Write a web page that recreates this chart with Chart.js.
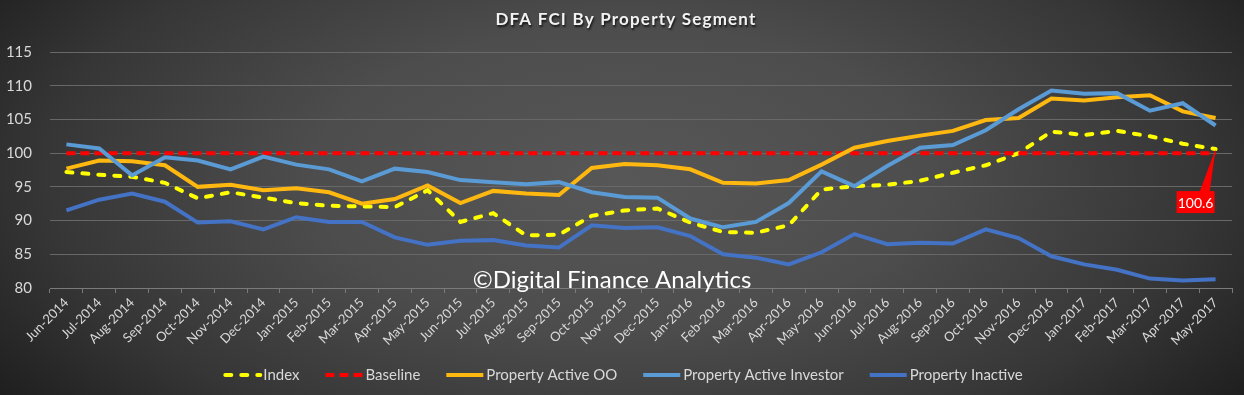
<!DOCTYPE html>
<html>
<head>
<meta charset="utf-8">
<title>DFA FCI By Property Segment</title>
<script src="https://cdn.jsdelivr.net/npm/chart.js@4"></script>
<style>
  html, body { margin: 0; padding: 0; background: #2a2a2a; }
  #wrap {
    width: 1244px; height: 395px; position: relative;
    background: radial-gradient(ellipse 62% 95% at 50% 45%, #575757 0%, #4d4d4d 40%, #363636 75%, #1e1e1e 100%);
  }
  canvas { display: block; }
</style>
</head>
<body>
<div id="wrap"><canvas id="c" width="1244" height="395"></canvas></div>
<script>
/* ---- data ---- */
const months = ['Jun-2014','Jul-2014','Aug-2014','Sep-2014','Oct-2014','Nov-2014','Dec-2014',
  'Jan-2015','Feb-2015','Mar-2015','Apr-2015','May-2015','Jun-2015','Jul-2015','Aug-2015',
  'Sep-2015','Oct-2015','Nov-2015','Dec-2015','Jan-2016','Feb-2016','Mar-2016','Apr-2016',
  'May-2016','Jun-2016','Jul-2016','Aug-2016','Sep-2016','Oct-2016','Nov-2016','Dec-2016',
  'Jan-2017','Feb-2017','Mar-2017','Apr-2017','May-2017'];

const indexVals = [97.2, 96.8, 96.5, 95.6, 93.3, 94.2, 93.4, 92.6, 92.2, 92.1, 92.0, 94.5,
  89.8, 91.1, 87.8, 87.9, 90.7, 91.5, 91.8, 89.7, 88.3, 88.2, 89.3,
  94.6, 95.1, 95.3, 95.9, 97.1, 98.2, 100.0, 103.2, 102.7, 103.3, 102.5, 101.4, 100.6];

const baselineVals = [100, 100, 100, 100, 100, 100, 100, 100, 100, 100, 100, 100,
  100, 100, 100, 100, 100, 100, 100, 100, 100, 100, 100, 100,
  100, 100, 100, 100, 100, 100, 100, 100, 100, 100, 100, 100];

const activeOO = [97.7, 98.9, 98.8, 98.2, 95.0, 95.3, 94.5, 94.8, 94.2, 92.5, 93.2, 95.2,
  92.6, 94.4, 94.0, 93.8, 97.8, 98.4, 98.2, 97.6, 95.6, 95.5, 96.0,
  98.3, 100.8, 101.8, 102.6, 103.3, 104.9, 105.2, 108.1, 107.8, 108.3, 108.6, 106.2, 105.2];

const activeInvestor = [101.3, 100.7, 96.7, 99.4, 98.9, 97.6, 99.5, 98.3, 97.6, 95.8, 97.7, 97.2,
  96.0, 95.7, 95.4, 95.7, 94.2, 93.5, 93.4, 90.3, 89.0, 89.8, 92.6,
  97.3, 95.1, 98.1, 100.8, 101.2, 103.4, 106.5, 109.3, 108.8, 108.9, 106.3, 107.4, 104.1];

const inactive = [91.5, 93.1, 94.0, 92.8, 89.7, 89.9, 88.7, 90.5, 89.8, 89.8, 87.5, 86.4,
  87.0, 87.1, 86.3, 86.0, 89.3, 88.9, 89.0, 87.7, 85.0, 84.5, 83.5,
  85.3, 88.0, 86.5, 86.7, 86.6, 88.7, 87.4, 84.7, 83.5, 82.7, 81.4, 81.1, 81.3];

const yTicks = [80, 85, 90, 95, 100, 105, 110, 115];
const chartTitle = 'DFA FCI By Property Segment';
const watermark = '\u00A9Digital Finance Analytics';
const FONT = 'Lato, "Open Sans", sans-serif';

/* ---- helpers ---- */
const line = (label, data, color, extra) => Object.assign({
  label, data, borderColor: color, backgroundColor: color,
  borderWidth: 4, pointRadius: 0, pointHoverRadius: 0, tension: 0, fill: false
}, extra);

/* ---- custom drawing: title, watermark, callout, legend ---- */
const decor = {
  id: 'decor',
  afterDraw(chart) {
    const ctx = chart.ctx;

    // title
    ctx.save();
    ctx.font = 'bold 17px ' + FONT;
    ctx.letterSpacing = '1.2px';
    ctx.textAlign = 'center';
    ctx.textBaseline = 'middle';
    ctx.shadowColor = 'rgba(0,0,0,0.7)';
    ctx.shadowOffsetX = 1; ctx.shadowOffsetY = 2; ctx.shadowBlur = 2;
    ctx.fillStyle = '#f2f2f2';
    ctx.fillText(chartTitle, 626, 20);
    ctx.restore();

    // watermark
    ctx.save();
    ctx.font = '24px ' + FONT;
    ctx.textAlign = 'center';
    ctx.textBaseline = 'alphabetic';
    ctx.fillStyle = '#ffffff';
    ctx.fillText(watermark, 612, 288);
    ctx.restore();

    // callout for last index value
    const meta = chart.getDatasetMeta(0);
    const last = meta.data[meta.data.length - 1];
    const px = last.x, py = last.y;
    const bw = 38, bh = 22;
    const bx = px - bw - 1, by = py + 42;
    ctx.save();
    ctx.fillStyle = '#ff0000';
    ctx.beginPath();
    ctx.moveTo(px, py);
    ctx.lineTo(px - 6, by + 1);
    ctx.lineTo(px - 16, by + 1);
    ctx.closePath();
    ctx.fill();
    ctx.fillRect(bx, by, bw, bh);
    ctx.font = '14px ' + FONT;
    ctx.fillStyle = '#ffffff';
    ctx.textAlign = 'center';
    ctx.textBaseline = 'middle';
    ctx.fillText(indexVals[indexVals.length - 1].toFixed(1), bx + bw / 2, by + bh / 2 + 1);
    ctx.restore();

    // legend
    const ds = chart.data.datasets;
    ctx.save();
    ctx.font = '15px ' + FONT;
    const sw = 37, gapTxt = 3, gapItem = 26;
    let total = 0;
    ds.forEach(d => { total += sw + gapTxt + ctx.measureText(d.label).width; });
    total += gapItem * (ds.length - 1);
    let x = 623 - total / 2;
    const ly = 375;
    ds.forEach(d => {
      ctx.strokeStyle = d.borderColor;
      ctx.lineWidth = 4;
      ctx.lineCap = d.borderCapStyle || 'butt';
      ctx.setLineDash(d.borderDash || []);
      ctx.beginPath();
      ctx.moveTo(x + (d.borderCapStyle === 'round' ? 2 : 0), ly);
      ctx.lineTo(x + sw, ly);
      ctx.stroke();
      ctx.setLineDash([]);
      ctx.fillStyle = '#d9d9d9';
      ctx.textAlign = 'left';
      ctx.textBaseline = 'middle';
      ctx.fillText(d.label, x + sw + gapTxt, ly);
      x += sw + gapTxt + ctx.measureText(d.label).width + gapItem;
    });
    ctx.restore();
  }
};

new Chart(document.getElementById('c'), {
  type: 'line',
  data: {
    labels: months,
    datasets: [
      line('Index', indexVals, '#ffff00', { borderDash: [6, 10], borderCapStyle: 'round', order: 4 }),
      line('Baseline', baselineVals, '#ff0000', { borderDash: [9, 5], order: 3 }),
      line('Property Active OO', activeOO, '#ffb80f', { order: 2 }),
      line('Property Active Investor', activeInvestor, '#5b9bd5', { order: 1 }),
      line('Property Inactive', inactive, '#4472c4', { order: 0 })
    ]
  },
  options: {
    responsive: false,
    animation: false,
    layout: { padding: { top: 52, left: 0, right: 12, bottom: 0 } },
    plugins: {
      legend: { display: false },
      title: { display: false },
      tooltip: { enabled: false }
    },
    scales: {
      x: {
        offset: true,
        afterFit: s => { s.height = 107; },
        grid: { display: true, drawOnChartArea: false, drawTicks: true, tickLength: 5, color: '#7a7a7a', offset: true },
        border: { display: true, color: '#7a7a7a', width: 1 },
        ticks: {
          autoSkip: false, minRotation: 45, maxRotation: 45,
          color: '#d9d9d9', font: { family: FONT, size: 13 }, padding: 2
        }
      },
      y: {
        min: yTicks[0], max: yTicks[yTicks.length - 1],
        afterFit: s => { s.width = 50; },
        afterBuildTicks: s => { s.ticks = yTicks.map(v => ({ value: v })); },
        grid: { color: '#686868', lineWidth: 1, drawTicks: false },
        border: { display: false },
        ticks: { color: '#d9d9d9', font: { family: FONT, size: 15 }, padding: 18 }
      }
    }
  },
  plugins: [decor]
});
</script>
</body>
</html>
